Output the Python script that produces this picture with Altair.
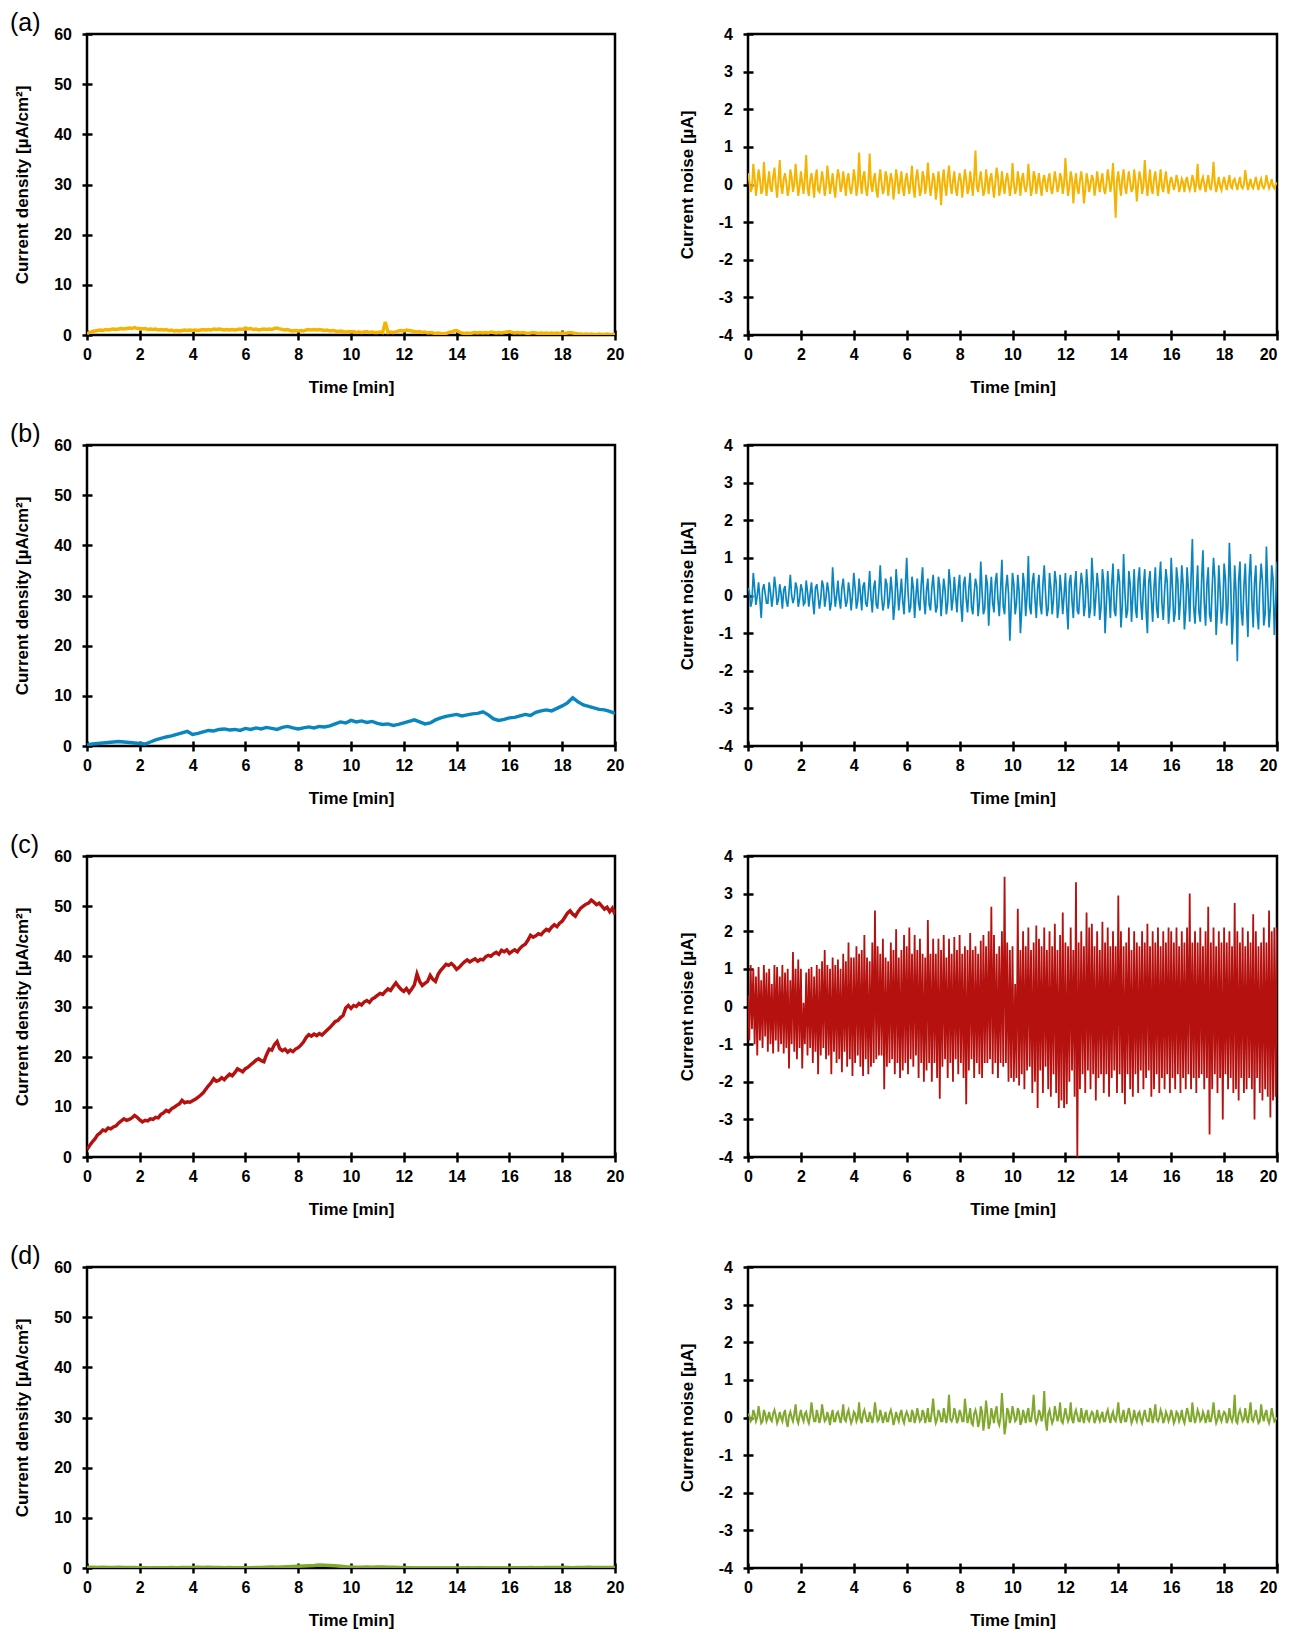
import altair as alt
import pandas as pd

# ---------------- data ----------------
panel_labels = ["(a)", "(b)", "(c)", "(d)"]
line_colors = ["#F5B400", "#0A86BF", "#B5110F", "#7FA82C"]
x_tick_values = [0, 2, 4, 6, 8, 10, 12, 14, 16, 18, 20]
density_ticks = [0, 10, 20, 30, 40, 50, 60]
noise_ticks = [-4, -3, -2, -1, 0, 1, 2, 3, 4]

# current density, (a) 0.1 min step
dens_a = [0.3, 0.5, 0.7, 0.8, 0.9, 1.0, 0.9, 1.1, 1.0, 1.1, 1.2, 1.1, 1.2, 1.3, 1.2, 1.3, 1.4, 1.3, 1.5, 1.3,
          1.3, 1.2, 1.3, 1.1, 1.2, 1.1, 1.2, 1.0, 1.1, 1.0, 1.1, 0.9, 1.0, 0.8, 0.9, 0.8, 0.9, 1.0, 0.9, 1.0,
          0.9, 1.0, 0.9, 1.0, 1.1, 1.0, 1.1, 1.0, 1.2, 1.1, 1.2, 1.1, 1.0, 1.1, 1.0, 1.1, 1.0, 1.1, 1.2, 1.1,
          1.4, 1.2, 1.3, 1.1, 1.2, 1.0, 1.1, 1.2, 1.1, 1.2, 1.1, 1.3, 1.4, 1.2, 1.1, 1.0, 1.1, 0.9, 0.8, 0.9,
          0.8, 0.9, 0.8, 1.0, 1.1, 1.0, 1.1, 1.0, 1.1, 1.0, 0.9, 1.0, 0.8, 0.9, 0.8, 0.7, 0.8, 0.7, 0.6, 0.7,
          0.6, 0.7, 0.5, 0.6, 0.5, 0.6, 0.7, 0.5, 0.6, 0.5, 0.5, 0.6, 0.5, 2.6, 0.5, 0.6, 0.5, 0.6, 0.8, 0.9,
          0.8, 1.0, 0.9, 0.8, 0.7, 0.6, 0.7, 0.5, 0.6, 0.4, 0.5, 0.4, 0.3, 0.4, 0.3, 0.2, 0.3, 0.5, 0.6, 0.8,
          0.9, 0.6, 0.4, 0.3, 0.4, 0.3, 0.4, 0.5, 0.4, 0.5, 0.4, 0.5, 0.4, 0.6, 0.5, 0.4, 0.5, 0.4, 0.5, 0.6,
          0.7, 0.5, 0.4, 0.5, 0.4, 0.5, 0.4, 0.3, 0.4, 0.5, 0.4, 0.3, 0.4, 0.3, 0.4, 0.3, 0.4, 0.3, 0.4, 0.3,
          0.4, 0.3, 0.4, 0.5, 0.4, 0.3, 0.2, 0.2, 0.1, 0.2, 0.1, 0.2, 0.1, 0.1, 0.2, 0.1, 0.1, 0.2, 0.1, 0.1,
          0.1]

# current density, (b) 0.2 min step
dens_b = [0.2, 0.4, 0.5, 0.6, 0.7, 0.8, 0.9, 0.8, 0.7, 0.6,
          0.5, 0.4, 0.8, 1.2, 1.5, 1.8, 2.0, 2.3, 2.6, 2.9,
          2.3, 2.5, 2.8, 3.1, 3.0, 3.3, 3.4, 3.2, 3.3, 3.1,
          3.5, 3.3, 3.6, 3.4, 3.7, 3.5, 3.3, 3.7, 3.9, 3.6,
          3.4, 3.6, 3.8, 3.6, 3.9, 3.8, 4.0, 4.4, 4.8, 4.6,
          5.1, 4.8, 5.0, 4.7, 4.9, 4.5, 4.3, 4.4, 4.1, 4.3,
          4.6, 4.9, 5.2, 4.8, 4.4, 4.6, 5.2, 5.6, 5.9, 6.1,
          6.3, 6.0, 6.2, 6.4, 6.5, 6.8, 6.2, 5.4, 5.1, 5.3,
          5.6, 5.7, 6.0, 6.3, 6.1, 6.7, 7.0, 7.2, 7.0, 7.5,
          8.0, 8.6, 9.6, 8.8, 8.2, 7.9, 7.6, 7.3, 7.2, 6.9,
          6.5]

# current density, (c) 0.1 min step
dens_c = [1.5, 2.3, 3.0, 3.6, 4.4, 4.8, 5.4, 5.2, 5.8, 5.6, 6.0, 6.2, 6.8, 7.2, 7.6, 7.3, 7.5, 7.8, 8.3, 7.9,
          7.4, 7.0, 7.3, 7.2, 7.6, 7.5, 7.9, 7.8, 8.5, 8.8, 9.3, 9.0, 9.6, 9.9, 10.3, 10.6, 11.3, 10.8, 11.0, 10.9,
          11.2, 11.5, 11.9, 12.3, 12.8, 13.5, 14.2, 14.8, 15.6, 15.1, 15.3, 15.8, 15.4, 16.0, 16.5, 16.2, 16.8, 17.6, 17.3, 17.0,
          17.6, 17.9, 18.4, 18.8, 19.3, 19.6, 19.2, 19.0, 20.4, 21.5, 21.3, 22.4, 23.0, 21.6, 21.2, 21.5, 20.9, 21.3, 21.0, 21.5,
          21.8, 22.3, 22.9, 23.8, 24.4, 24.1, 24.5, 24.2, 24.6, 24.3, 24.8, 25.3, 25.8, 26.4, 27.0, 27.2, 27.8, 28.2, 29.7, 30.2,
          29.6, 30.2, 30.0, 30.6, 30.3, 30.9, 31.2, 30.8, 31.5, 31.8, 32.2, 32.6, 32.4, 33.0, 33.5, 33.2, 34.0, 34.7, 34.0, 33.4,
          33.0, 33.6, 32.8, 33.5, 34.3, 36.5, 35.0, 34.2, 34.6, 35.0, 36.2, 35.4, 35.0, 36.4, 37.2, 37.8, 38.4, 38.2, 38.6, 38.1,
          37.4, 37.8, 38.4, 38.9, 39.3, 38.9, 39.2, 39.5, 39.0, 39.4, 39.3, 39.9, 40.2, 40.0, 40.5, 40.8, 40.4, 41.2, 40.9, 41.3,
          40.6, 41.0, 41.3, 40.9, 41.6, 42.1, 42.4, 43.2, 44.2, 43.8, 44.1, 44.5, 44.3, 44.9, 45.4, 45.1, 45.8, 46.3, 45.9, 46.6,
          47.0, 47.8, 48.6, 49.1, 48.4, 48.0, 48.9, 49.6, 50.0, 50.4, 50.6, 51.2, 50.8, 50.3, 50.6, 50.0, 49.4, 49.8, 48.9, 49.6,
          48.3]

# current density, (d) 0.2 min step
dens_d = [0.1, 0.15, 0.1, 0.15, 0.1, 0.1, 0.15, 0.1, 0.1, 0.1,
          0.05, 0.05, 0.0, 0.05, 0.05, 0.05, 0.1, 0.05, 0.1, 0.1,
          0.1, 0.15, 0.1, 0.15, 0.1, 0.1, 0.05, 0.1, 0.05, 0.05,
          0.05, 0.05, 0.1, 0.1, 0.15, 0.2, 0.15, 0.2, 0.25, 0.3,
          0.35, 0.4, 0.45, 0.5, 0.6, 0.55, 0.5, 0.45, 0.35, 0.25,
          0.2, 0.15, 0.15, 0.2, 0.15, 0.2, 0.2, 0.15, 0.15, 0.1,
          0.1, 0.05, 0.0, 0.0, 0.0, 0.0, 0.0, 0.0, 0.0, 0.0,
          0.0, 0.0, 0.05, 0.0, 0.05, 0.05, 0.0, 0.0, 0.0, 0.0,
          0.0, 0.05, 0.05, 0.05, 0.1, 0.05, 0.05, 0.1, 0.1, 0.1,
          0.1, 0.1, 0.05, 0.1, 0.1, 0.15, 0.1, 0.1, 0.1, 0.1,
          0.1]

# dark trace under the green curve in (d)
black_d_t = [7.2, 7.4, 7.6, 7.8, 8.0, 8.2, 8.4, 8.6, 8.8, 9.0, 9.2, 9.4, 9.6, 9.8]
black_d_v = [0.0, 0.05, 0.1, 0.15, 0.2, 0.25, 0.25, 0.3, 0.3, 0.25, 0.2, 0.15, 0.1, 0.05]

# current noise, (a): samples at 0.0, 0.1, ... and in-between samples at 0.05, 0.15, ...
noise_a = [0.3, -0.2, 0.55, -0.3, 0.4, -0.25, 0.6, -0.3, 0.35, -0.2, 0.45, -0.35, 0.65, -0.25, 0.3, -0.3, 0.4, -0.2, 0.55, -0.3,
           0.35, -0.25, 0.78, -0.3, 0.3, -0.35, 0.4, -0.2, 0.35, -0.3, 0.5, -0.25, 0.3, -0.35, 0.4, -0.2, 0.35, -0.3, 0.3, -0.25,
           0.4, -0.3, 0.85, -0.25, 0.35, -0.3, 0.82, -0.2, 0.3, -0.35, 0.4, -0.25, 0.35, -0.3, 0.3, -0.4, 0.4, -0.25, 0.35, -0.3,
           0.3, -0.25, 0.5, -0.35, 0.4, -0.3, 0.35, -0.25, 0.58, -0.3, 0.3, -0.4, 0.35, -0.55, 0.4, -0.3, 0.5, -0.25, 0.35, -0.3,
           0.3, -0.35, 0.4, -0.25, 0.35, -0.3, 0.9, -0.2, 0.35, -0.3, 0.4, -0.25, 0.3, -0.35, 0.45, -0.3, 0.35, -0.25, 0.3, -0.3,
           0.57, -0.25, 0.35, -0.3, 0.3, -0.2, 0.55, -0.3, 0.35, -0.25, 0.3, -0.3, 0.25, -0.2, 0.3, -0.25, 0.35, -0.2, 0.3, -0.25,
           0.7, -0.3, 0.35, -0.5, 0.3, -0.25, 0.35, -0.5, 0.3, -0.2, 0.25, -0.3, 0.35, -0.2, 0.3, -0.25, 0.4, -0.2, 0.57, -0.88,
           0.35, -0.3, 0.4, -0.25, 0.35, -0.2, 0.4, -0.45, 0.35, -0.25, 0.65, -0.3, 0.4, -0.25, 0.35, -0.3, 0.4, -0.2, 0.35, -0.25,
           0.2, -0.15, 0.25, -0.2, 0.15, -0.2, 0.2, -0.15, 0.25, -0.2, 0.55, -0.15, 0.2, -0.2, 0.25, -0.15, 0.6, -0.2, 0.2, -0.15,
           0.2, -0.15, 0.25, -0.1, 0.15, -0.15, 0.2, -0.1, 0.38, -0.15, 0.15, -0.1, 0.2, -0.15, 0.15, -0.1, 0.25, -0.1, 0.15, -0.1,
           0.05]
noise_a_mid = [0.1, -0.1, 0.2, 0.0, 0.15, -0.15, 0.1, 0.05, -0.1, 0.2, 0.0, 0.1, -0.05, 0.15, 0.05, -0.1, 0.2, 0.0, 0.1, -0.05,
               0.05, 0.15, -0.1, 0.1, 0.0, 0.2, -0.15, 0.05, 0.1, -0.05, 0.15, 0.0, -0.1, 0.1, 0.2, -0.05, 0.05, 0.15, -0.1, 0.0,
               0.15, -0.05, 0.1, 0.2, -0.1, 0.05, 0.0, 0.15, -0.15, 0.1, 0.05, -0.1, 0.2, 0.0, 0.1, -0.05, 0.15, 0.05, -0.1, 0.1,
               0.0, 0.1, -0.1, 0.15, 0.05, -0.15, 0.2, 0.0, 0.1, -0.05, 0.15, -0.1, 0.05, 0.1, -0.05, 0.2, 0.0, 0.1, -0.1, 0.05,
               0.1, 0.0, 0.15, -0.1, 0.05, 0.2, -0.05, 0.1, 0.0, -0.15, 0.1, 0.15, -0.05, 0.05, 0.2, -0.1, 0.0, 0.1, 0.05, -0.05,
               0.05, -0.1, 0.1, 0.15, -0.05, 0.0, 0.1, -0.1, 0.2, 0.05, -0.05, 0.1, 0.0, 0.15, -0.1, 0.05, 0.1, -0.05, 0.15, 0.0,
               0.1, -0.05, 0.15, 0.0, -0.1, 0.1, 0.05, -0.15, 0.1, 0.0, 0.15, -0.05, 0.05, 0.1, -0.1, 0.0, 0.15, 0.05, -0.1, 0.1,
               0.0, 0.15, -0.05, 0.1, 0.05, -0.1, 0.1, 0.0, 0.15, -0.05, 0.1, 0.05, -0.1, 0.15, 0.0, 0.05, -0.05, 0.1, 0.0, 0.05,
               0.05, 0.0, 0.1, -0.05, 0.05, 0.1, -0.05, 0.0, 0.1, 0.05, -0.05, 0.1, 0.0, 0.05, -0.05, 0.1, 0.05, 0.0, -0.05, 0.05,
               0.0, 0.05, -0.05, 0.1, 0.0, 0.05, -0.05, 0.0, 0.1, 0.0, -0.05, 0.05, 0.0, 0.05, -0.05, 0.0, 0.05, 0.0, -0.05, 0.0]

# current noise, (b)
noise_b = [0.2, -0.3, 0.6, -0.25, 0.35, -0.6, 0.3, -0.2, 0.35, -0.3, 0.5, -0.25, 0.3, -0.35, 0.25, -0.3, 0.55, -0.2, 0.35, -0.3,
           0.3, -0.25, 0.4, -0.3, 0.35, -0.5, 0.3, -0.35, 0.4, -0.3, 0.35, -0.4, 0.75, -0.3, 0.4, -0.35, 0.45, -0.3, 0.35, -0.4,
           0.6, -0.35, 0.45, -0.4, 0.35, -0.3, 0.65, -0.45, 0.4, -0.35, 0.8, -0.4, 0.45, -0.35, 0.5, -0.65, 0.7, -0.4, 0.45, -0.5,
           1.0, -0.45, 0.5, -0.6, 0.45, -0.4, 0.75, -0.5, 0.45, -0.4, 0.55, -0.45, 0.5, -0.55, 0.45, -0.5, 0.7, -0.4, 0.5, -0.45,
           0.55, -0.7, 0.5, -0.45, 0.6, -0.5, 0.45, -0.55, 0.9, -0.5, 0.55, -0.8, 0.5, -0.45, 0.6, -0.55, 0.95, -0.5, 0.55, -1.2,
           0.6, -0.5, 0.55, -1.0, 0.6, -0.55, 1.05, -0.5, 0.6, -0.6, 0.55, -0.5, 0.8, -0.55, 0.6, -0.5, 0.65, -0.6, 0.55, -0.5,
           0.6, -0.9, 0.55, -0.6, 0.65, -0.5, 0.6, -0.55, 0.7, -0.6, 1.0, -0.55, 0.6, -0.65, 0.7, -1.0, 0.65, -0.6, 0.85, -0.55,
           0.7, -0.85, 1.1, -0.6, 0.65, -0.7, 0.7, -0.6, 0.75, -0.65, 0.7, -1.0, 0.65, -0.7, 0.75, -0.6, 0.9, -0.65, 0.7, -0.75,
           1.0, -0.7, 0.75, -0.65, 0.8, -0.9, 0.75, -0.7, 1.5, -0.75, 0.8, -0.7, 1.2, -0.8, 0.75, -0.7, 1.0, -1.05, 0.8, -0.75,
           0.85, -0.8, 1.4, -1.3, 0.8, -1.75, 0.9, -0.8, 0.85, -1.1, 1.1, -0.85, 0.8, -0.9, 0.85, -0.8, 1.3, -0.85, 0.8, -1.05,
           0.9]
noise_b_mid = [0.1, -0.15, 0.2, 0.0, -0.1, 0.15, 0.05, -0.2, 0.1, 0.0, 0.2, -0.1, 0.05, 0.15, -0.15, 0.1, 0.0, -0.05, 0.2, -0.1,
               0.15, -0.2, 0.1, 0.05, -0.15, 0.2, 0.0, -0.1, 0.25, -0.05, 0.1, -0.2, 0.15, 0.0, -0.1, 0.2, 0.05, -0.15, 0.1, 0.0,
               0.2, -0.15, 0.05, 0.25, -0.2, 0.1, -0.05, 0.2, -0.25, 0.15, 0.0, -0.2, 0.3, -0.1, 0.1, -0.25, 0.2, 0.0, -0.15, 0.25,
               0.1, -0.3, 0.2, 0.0, -0.2, 0.3, -0.1, 0.15, -0.25, 0.2, 0.05, -0.3, 0.25, -0.05, 0.15, -0.2, 0.3, -0.1, 0.0, 0.2,
               -0.25, 0.3, -0.1, 0.2, -0.3, 0.05, 0.25, -0.2, 0.1, -0.35, 0.3, 0.0, -0.2, 0.35, -0.1, 0.15, -0.3, 0.2, 0.05, -0.25,
               0.3, -0.2, 0.1, -0.35, 0.25, 0.0, -0.3, 0.35, -0.1, 0.2, -0.25, 0.3, 0.05, -0.35, 0.2, -0.1, 0.35, -0.3, 0.1, 0.0,
               -0.3, 0.35, -0.15, 0.25, -0.4, 0.1, 0.3, -0.25, 0.15, -0.35, 0.4, -0.05, 0.2, -0.3, 0.35, -0.2, 0.05, 0.3, -0.4, 0.15,
               0.35, -0.3, 0.1, -0.4, 0.3, 0.0, -0.35, 0.4, -0.15, 0.25, -0.4, 0.35, -0.1, 0.2, -0.35, 0.4, -0.2, 0.1, 0.35, -0.3,
               0.2, -0.45, 0.4, -0.1, 0.3, -0.4, 0.15, 0.45, -0.3, 0.05, -0.45, 0.4, -0.2, 0.3, -0.5, 0.2, 0.45, -0.35, 0.1, -0.4,
               0.45, -0.2, 0.35, -0.5, 0.1, 0.4, -0.45, 0.25, -0.3, 0.5, -0.1, 0.35, -0.45, 0.2, 0.4, -0.5, 0.15, -0.3, 0.45, -0.2]

# current noise, (c) 0.05 min step
noise_c = [0.3, -0.9, 1.1, -0.6, 1.0, -1.0, 0.8, -1.3, 1.05, -0.9, 0.7, -1.1, 1.1, -0.8, 0.9, -1.2, 1.0, -1.0, 0.6, -1.25,
           1.1, -0.9, 1.05, -1.2, 0.8, -1.0, 1.1, -1.25, 0.9, -1.1, 1.0, -1.65, 0.7, -1.0, 1.45, -1.2, 1.0, -1.4, 1.25, -1.1,
           1.0, -1.65, 0.1, -1.0, 0.9, -1.3, 1.0, -1.1, 1.05, -1.5, 0.8, -1.2, 1.1, -1.8, 1.0, -1.3, 1.2, -1.1, 1.5, -1.4,
           1.1, -1.3, 1.0, -1.8, 1.3, -1.2, 1.1, -1.5, 1.25, -1.4, 1.0, -1.75, 1.4, -1.2, 1.2, -1.6, 1.7, -1.4, 1.3, -1.85,
           1.3, -1.5, 1.6, -1.3, 1.4, -1.6, 1.5, -1.85, 1.9, -1.4, 1.3, -1.8, 1.2, -1.6, 1.7, -1.5, 2.55, -1.4, 1.6, -1.3,
           1.4, -1.3, 1.8, -2.2, 1.3, -1.6, 1.2, -1.5, 1.7, -1.4, 1.5, -1.8, 2.05, -1.5, 1.3, -1.9, 1.5, -1.7, 1.9, -1.5,
           1.6, -1.8, 2.1, -1.4, 1.4, -1.6, 1.9, -1.3, 1.5, -1.9, 1.8, -1.5, 1.4, -2.0, 1.3, -1.7, 2.3, -1.5, 1.4, -2.0,
           1.8, -1.5, 1.4, -1.9, 1.8, -2.45, 1.5, -1.6, 1.9, -1.4, 1.3, -1.9, 1.8, -1.5, 1.4, -2.0, 1.85, -1.4, 1.5, -1.8,
           1.9, -1.5, 1.4, -1.9, 1.6, -2.6, 1.5, -1.7, 1.95, -1.4, 1.5, -1.9, 1.6, -1.5, 1.4, -1.8, 1.75, -1.9, 1.9, -1.5,
           1.6, -1.5, 2.0, -1.4, 2.65, -1.8, 1.9, -1.5, 1.4, -1.9, 1.6, -1.5, 2.0, -1.6, 3.45, -1.5, 1.7, -2.0, 1.5, -1.9,
           1.6, -2.0, 0.6, -1.9, 2.6, -2.1, 1.5, -1.8, 2.0, -2.2, 1.6, -1.7, 2.1, -1.6, 1.5, -2.3, 1.7, -2.0, 2.15, -2.7,
           1.8, -1.7, 1.6, -2.3, 2.1, -1.6, 1.5, -2.2, 2.0, -2.4, 1.6, -1.8, 2.2, -2.3, 1.5, -2.7, 1.9, -2.5, 2.5, -2.7,
           1.7, -2.6, 1.6, -2.0, 2.1, -1.7, 1.5, -2.4, 3.3, -4.0, 1.7, -2.2, 2.0, -1.8, 1.6, -2.3, 2.5, -1.7, 2.1, -2.2,
           2.2, -1.8, 1.6, -2.5, 2.0, -1.9, 1.5, -1.8, 2.25, -2.3, 1.7, -1.8, 2.1, -2.4, 1.6, -1.9, 2.0, -1.7, 1.6, -2.3,
           2.95, -1.8, 2.0, -2.3, 1.6, -2.6, 1.7, -1.8, 2.1, -2.2, 1.5, -2.4, 2.0, -1.8, 1.7, -2.3, 1.6, -1.7, 2.0, -2.2,
           1.7, -1.9, 2.2, -1.7, 1.6, -2.4, 2.0, -2.2, 1.7, -1.8, 2.1, -2.3, 1.6, -1.9, 2.0, -2.2, 1.7, -1.8, 2.1, -2.3,
           2.0, -1.9, 1.7, -2.2, 2.1, -1.8, 1.6, -2.3, 2.0, -1.9, 1.7, -2.2, 2.1, -1.8, 3.0, -2.2, 1.7, -1.9, 2.0, -2.3,
           1.7, -1.9, 2.1, -1.8, 1.6, -2.2, 2.0, -1.9, 2.65, -3.4, 1.7, -2.2, 2.1, -1.8, 1.6, -2.3, 2.0, -1.9, 1.7, -3.0,
           2.1, -1.8, 1.7, -2.2, 2.0, -1.9, 1.6, -2.3, 2.75, -2.2, 2.0, -2.5, 1.7, -1.9, 2.1, -2.3, 1.6, -2.2, 2.0, -1.9,
           1.7, -2.2, 2.45, -3.0, 2.0, -1.9, 1.6, -2.3, 1.7, -2.5, 2.1, -2.2, 1.7, -2.4, 2.55, -2.95, 2.0, -2.5, 2.1, -2.4,
           2.1]

# current noise, (d)
noise_d = [0.1, -0.1, 0.2, -0.1, 0.3, -0.15, 0.2, -0.1, 0.15, -0.1, 0.2, -0.15, 0.15, -0.1, 0.2, -0.25, 0.15, -0.1, 0.35, -0.15,
           0.2, -0.1, 0.15, -0.15, 0.4, -0.1, 0.2, -0.15, 0.35, -0.1, 0.15, -0.2, 0.2, -0.1, 0.15, -0.15, 0.35, -0.1, 0.2, -0.15,
           0.15, -0.1, 0.4, -0.15, 0.2, -0.1, 0.15, -0.15, 0.4, -0.1, 0.2, -0.15, 0.15, -0.1, 0.2, -0.2, 0.15, -0.1, 0.2, -0.15,
           0.15, -0.1, 0.2, -0.15, 0.25, -0.1, 0.2, -0.15, 0.25, -0.1, 0.5, -0.15, 0.2, -0.1, 0.25, -0.15, 0.6, -0.1, 0.25, -0.15,
           0.2, -0.1, 0.5, -0.15, 0.25, -0.2, 0.2, -0.25, 0.3, -0.35, 0.45, -0.3, 0.25, -0.15, 0.3, -0.2, 0.65, -0.45, 0.25, -0.15,
           0.3, -0.1, 0.25, -0.2, 0.2, -0.15, 0.25, -0.1, 0.6, -0.15, 0.2, -0.1, 0.7, -0.35, 0.2, -0.15, 0.3, -0.1, 0.4, -0.15,
           0.25, -0.1, 0.4, -0.15, 0.2, -0.1, 0.25, -0.15, 0.2, -0.1, 0.15, -0.15, 0.2, -0.1, 0.15, -0.1, 0.2, -0.15, 0.15, -0.1,
           0.4, -0.15, 0.2, -0.1, 0.25, -0.15, 0.2, -0.1, 0.15, -0.15, 0.2, -0.1, 0.25, -0.15, 0.35, -0.1, 0.2, -0.15, 0.15, -0.1,
           0.2, -0.15, 0.15, -0.1, 0.2, -0.15, 0.25, -0.1, 0.4, -0.15, 0.2, -0.1, 0.15, -0.15, 0.2, -0.1, 0.4, -0.15, 0.2, -0.1,
           0.15, -0.15, 0.25, -0.1, 0.6, -0.15, 0.2, -0.1, 0.25, -0.15, 0.4, -0.1, 0.2, -0.15, 0.35, -0.1, 0.2, -0.15, 0.25, -0.1,
           0.0]
noise_d_mid = [0.05, -0.05, 0.1, 0.0, 0.05, -0.1, 0.1, 0.0, -0.05, 0.1, 0.05, -0.05, 0.0, 0.1, -0.1, 0.05, 0.0, 0.1, -0.05, 0.05,
               0.0, 0.1, -0.05, 0.05, 0.1, -0.1, 0.05, 0.0, 0.1, -0.05, 0.0, 0.05, -0.1, 0.1, 0.0, 0.05, -0.05, 0.1, 0.0, -0.05,
               0.1, 0.0, -0.05, 0.1, 0.05, -0.1, 0.0, 0.05, 0.1, -0.05, 0.05, 0.0, -0.1, 0.1, 0.05, -0.05, 0.0, 0.1, -0.05, 0.05,
               0.05, -0.1, 0.1, 0.0, 0.05, -0.05, 0.1, 0.0, -0.1, 0.15, 0.05, -0.05, 0.1, -0.1, 0.05, 0.1, -0.05, 0.0, 0.1, -0.05,
               0.1, -0.1, 0.15, 0.0, -0.15, 0.1, 0.05, -0.1, 0.15, -0.05, 0.1, -0.15, 0.05, 0.15, -0.1, 0.0, 0.1, -0.2, 0.15, 0.0,
               0.1, -0.05, 0.15, -0.1, 0.05, 0.1, -0.1, 0.15, 0.0, -0.05, 0.1, 0.05, -0.1, 0.1, 0.0, -0.05, 0.1, 0.05, -0.1, 0.05,
               0.05, 0.0, -0.05, 0.1, 0.05, -0.1, 0.0, 0.1, -0.05, 0.05, 0.1, -0.05, 0.0, 0.05, -0.1, 0.1, 0.0, 0.05, -0.05, 0.1,
               0.0, 0.05, -0.1, 0.1, 0.05, -0.05, 0.0, 0.1, -0.05, 0.05, 0.0, -0.1, 0.1, 0.05, -0.05, 0.0, 0.1, -0.05, 0.05, 0.0,
               0.05, -0.05, 0.1, 0.0, -0.05, 0.05, 0.1, -0.1, 0.05, 0.0, 0.1, -0.05, 0.05, 0.0, -0.1, 0.1, 0.05, -0.05, 0.0, 0.05,
               0.1, -0.05, 0.0, 0.05, -0.1, 0.1, 0.05, -0.05, 0.0, 0.1, -0.05, 0.05, 0.0, -0.1, 0.05, 0.1, -0.05, 0.0, 0.05, -0.05]


def interleave(base, mid):
    out = []
    for k, v in enumerate(base):
        out.append(v)
        if k < len(mid) and k < len(base) - 1:
            out.append(mid[k])
    return out


density_series = [dens_a, dens_b, dens_c, dens_d]
noise_series = [interleave(noise_a, noise_a_mid), interleave(noise_b, noise_b_mid),
                noise_c, interleave(noise_d, noise_d_mid)]
noise_widths = [2.0, 1.7, 1.8, 2.0]

# ---------------- helpers ----------------
FONT = "Liberation Sans"
PW_L, PW_R, PH = 528, 529, 301


def to_frame(vals, t_end=20.0):
    n = len(vals)
    return pd.DataFrame({"t": [round(i * t_end / (n - 1), 4) for i in range(n)], "v": vals})


def enc_x(right_side=False):
    if right_side:
        # keep the last label inside the page at the far right
        ax = alt.Axis(values=x_tick_values, title="Time [min]",
                      labelAlign={"condition": {"test": "datum.value == 20", "value": "right"},
                                  "value": "center"})
    else:
        ax = alt.Axis(values=x_tick_values, title="Time [min]")
    return alt.X("t:Q", scale=alt.Scale(domain=[0, 20], nice=False, zero=False), axis=ax)


def enc_y(dom, ticks, title):
    return alt.Y("v:Q", scale=alt.Scale(domain=dom, nice=False, zero=False),
                 axis=alt.Axis(values=ticks, title=title, labelExpr="'' + datum.value"))


DENS_TITLE = "Current density [µA/cm²]"
NOISE_TITLE = "Current noise [µA]"


def left_panel(i):
    layers = []
    if i == 3:
        dfb = pd.DataFrame({"t": black_d_t, "v": black_d_v})
        layers.append(alt.Chart(dfb).mark_line(color="black", strokeWidth=3, clip=True).encode(
            x=enc_x(), y=enc_y([0, 60], density_ticks, DENS_TITLE)))
    layers.append(alt.Chart(to_frame(density_series[i])).mark_line(
        color=line_colors[i], strokeWidth=3.4, clip=True).encode(
        x=enc_x(), y=enc_y([0, 60], density_ticks, DENS_TITLE)))
    lab = alt.Chart(pd.DataFrame({"label": [panel_labels[i]]})).mark_text(
        font=FONT, fontSize=25, fontWeight="normal", color="black", align="left",
        baseline="alphabetic").encode(x=alt.value(-77), y=alt.value(-3), text="label:N")
    layers.append(lab)
    return alt.layer(*layers).properties(width=PW_L, height=PH)


def right_panel(i):
    line = alt.Chart(to_frame(noise_series[i])).mark_line(
        color=line_colors[i], strokeWidth=noise_widths[i], clip=True).encode(
        x=enc_x(True), y=enc_y([-4, 4], noise_ticks, NOISE_TITLE))
    return line.properties(width=PW_R, height=PH)


panels = []
for i in range(4):
    panels.append(left_panel(i))
    panels.append(right_panel(i))

chart = alt.concat(*panels, columns=2, spacing={"row": 110, "column": 133}, bounds="flush").properties(
    padding={"left": 0, "top": 1, "right": 0, "bottom": 0},
    background="white",
).configure_view(
    stroke="black", strokeWidth=2.5
).configure_axis(
    domain=False, grid=False, ticks=True, tickColor="black", tickWidth=2.5, tickSize=10, offset=-5,
    labelFont=FONT, labelFontSize=16, labelFontWeight="bold", labelColor="black",
    labelFlush=False, labelOverlap=False, labelBound=False,
    titleFont=FONT, titleFontSize=17, titleFontWeight="bold", titleColor="black",
).configure_axisX(
    labelPadding=6, titlePadding=17
).configure_axisY(
    labelPadding=10.5, titlePadding=22
)

chart.save("out.html", embed_options={"renderer": "svg", "actions": False})
